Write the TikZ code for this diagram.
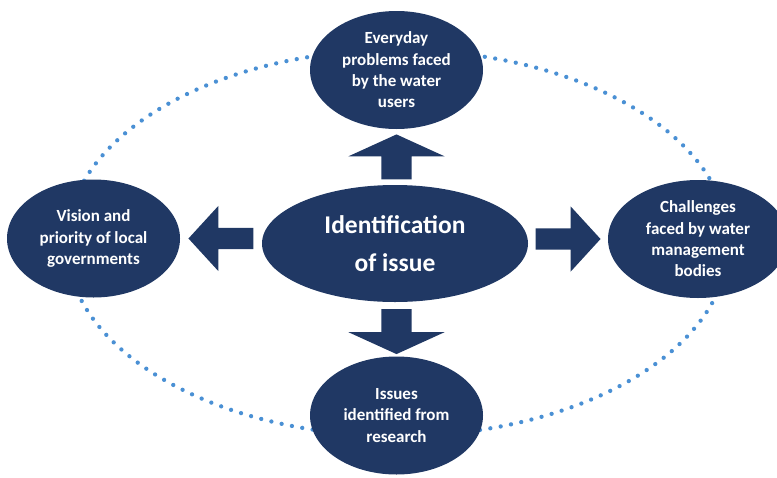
\documentclass[tikz,border=0pt]{standalone}
\usepackage{fontspec}
\setmainfont{Carlito}
\usetikzlibrary{shapes.geometric,shapes.arrows,positioning}
\definecolor{navy}{RGB}{32,56,100}
\definecolor{dotblue}{RGB}{74,144,212}

\tikzset{
  source/.style={ellipse,fill=navy,text=white,inner sep=0pt,align=center,
    minimum width=173pt,minimum height=118pt,
    font=\bfseries\fontsize{17}{21.3}\selectfont},
  hub/.style={source,minimum width=266pt,minimum height=117pt,
    font=\bfseries\fontsize{25.5}{38}\selectfont},
  uparrow/.style={single arrow,fill=navy,inner ysep=0pt,inner xsep=15pt,
    single arrow head extend=33pt,single arrow tip angle=131,
    minimum height=45pt,anchor=tip},
  siderarrow/.style={single arrow,fill=navy,inner xsep=0pt,inner ysep=10.5pt,
    single arrow head extend=22pt,single arrow tip angle=95,
    minimum height=65pt,anchor=tip},
  loop/.style={dotblue,line width=4.3pt,line cap=round,dash pattern=on 0pt off 10.5pt}
}

\begin{document}
\begin{tikzpicture}[x=1pt,y=-1pt]
\useasboundingbox (0,0) rectangle (777,477);
\draw[loop] (397.5,243) ellipse [x radius=331,y radius=193];

\node[hub] (issue) at (395,243.5) {Identification\\of issue};
\node[source] (users) at (396.5,70) {Everyday\\problems faced\\by the water\\users};
\node[source] (govts) at (93.5,238.5) {Vision and\\priority of local\\governments};
\node[source,minimum width=180pt] (bodies) at (698,239) {Challenges\\faced by water\\management\\bodies};
\node[source] (research) at (396.5,415.5) {Issues\\identified from\\research};

\node[uparrow,shape border rotate=90,below=5pt of users.south,anchor=tip] (toUsers) {};
\node[uparrow,shape border rotate=270,above=2pt of research.north,anchor=tip] (toResearch) {};
\node[siderarrow,shape border rotate=180,right=8pt of govts.east,anchor=tip] (toGovts) {};
\node[siderarrow,left=7pt of bodies.west,anchor=tip] (toBodies) {};
\end{tikzpicture}
\end{document}
